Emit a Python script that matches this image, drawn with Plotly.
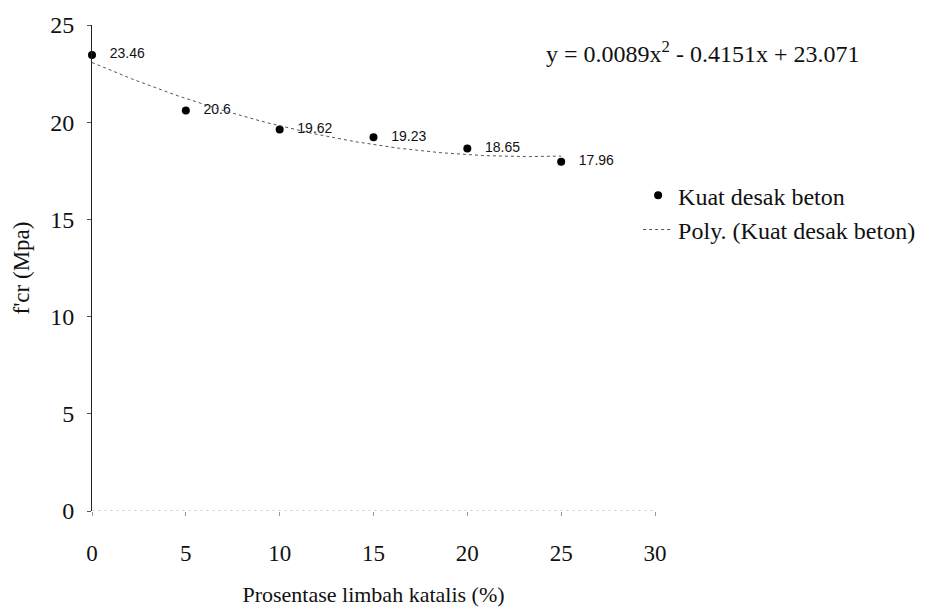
import numpy as np
import plotly.graph_objects as go

# Compressive strength vs. catalyst waste percentage
limbah_pct = [0, 5, 10, 15, 20, 25]
kuat_desak = [23.46, 20.6, 19.62, 19.23, 18.65, 17.96]

# Second-order polynomial trendline coefficients (a, b, c): y = a x^2 + b x + c
trend_coef = [0.0089, -0.4151, 23.071]

x_ticks = [0, 5, 10, 15, 20, 25, 30]
y_ticks = [0, 5, 10, 15, 20, 25]

serif = "Liberation Serif"
sans = "Liberation Sans"

x_fit = np.linspace(min(limbah_pct), max(limbah_pct), 120)
y_fit = np.polyval(trend_coef, x_fit)

fig = go.Figure()

fig.add_trace(go.Scatter(
    x=limbah_pct, y=kuat_desak,
    mode="markers+text",
    name="Kuat desak beton",
    marker=dict(color="black", size=8, symbol="circle"),
    text=["   " + f"{v:g}" for v in kuat_desak],
    textposition="middle right",
    textfont=dict(family=sans, size=14, color="#111"),
    cliponaxis=False,
))

fig.add_trace(go.Scatter(
    x=x_fit, y=y_fit,
    mode="lines",
    name="Poly. (Kuat desak beton)",
    line=dict(color="#555", width=1, dash="dot"),
))

# Faint dotted horizontal axis line at y = 0
fig.add_shape(type="line", xref="x", yref="y", x0=0, x1=30, y0=0, y1=0,
              line=dict(color="#bbb", width=1, dash="dot"))

a, b, c = trend_coef
eq = f"y = {a:g}x<sup>2</sup> - {abs(b):g}x + {c:g}"
fig.add_annotation(x=24.1, y=23.6, xref="x", yref="y", text=eq,
                   showarrow=False, xanchor="left", yanchor="middle",
                   font=dict(family=serif, size=24, color="#111"))

fig.update_layout(
    width=952, height=615,
    margin=dict(l=92, r=297, t=24, b=97),
    plot_bgcolor="white", paper_bgcolor="white",
    showlegend=True,
    legend=dict(x=0.97, y=0.695, xanchor="left", yanchor="top",
                font=dict(family=serif, size=24, color="#111"),
                bgcolor="rgba(0,0,0,0)", itemwidth=30, tracegroupgap=2),
    xaxis=dict(
        range=[0, 30], tickvals=x_ticks, showgrid=False, zeroline=False,
        showline=False, ticks="outside", ticklen=4, tickcolor="#999",
        ticklabelstandoff=17,
        tickfont=dict(family=serif, size=23, color="#111"),
        title=dict(text="Prosentase limbah katalis (%)", standoff=22,
                   font=dict(family=serif, size=22, color="#111")),
    ),
    yaxis=dict(
        range=[0, 25], tickvals=y_ticks, showgrid=False, zeroline=False,
        showline=True, linecolor="#222", linewidth=1,
        ticks="outside", ticklen=4, tickcolor="#555",
        ticklabelstandoff=8,
        tickfont=dict(family=serif, size=24, color="#111"),
        title=dict(text="f'cr (Mpa)", standoff=14,
                   font=dict(family=serif, size=23, color="#111")),
    ),
)

fig.write_html("out.html")
